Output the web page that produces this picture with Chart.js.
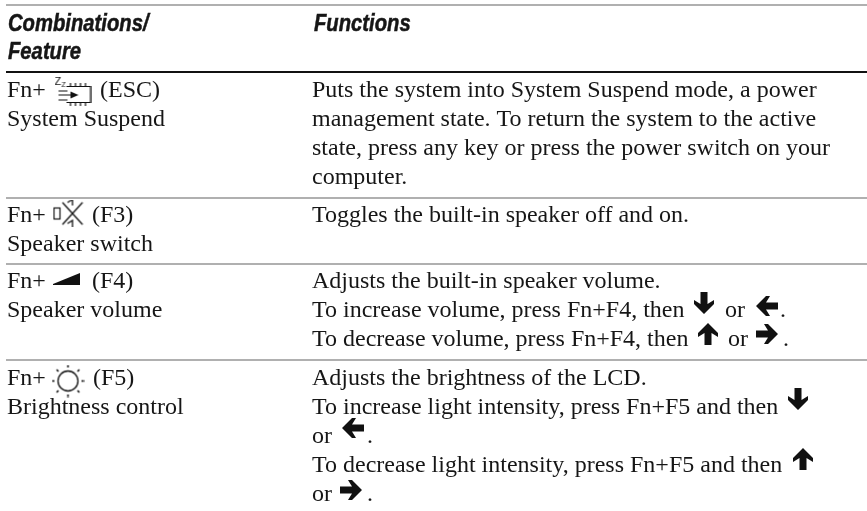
<!DOCTYPE html>
<html><head><meta charset="utf-8">
<style>html,body{margin:0;padding:0;background:#fff}canvas{display:block}</style>
<script src="https://cdn.jsdelivr.net/npm/chart.js@4"></script>
</head><body><canvas id="c" width="867" height="511"></canvas>
<script>
// Table content
const headerTexts=["Combinations/","Feature","Functions"];
const headerX=[8,8,314];
const headerY=[31,59,31];
const bodyTexts=[
"Fn+","(ESC)","System Suspend",
"Puts the system into System Suspend mode, a power",
"management state. To return the system to the active",
"state, press any key or press the power switch on your",
"computer.",
"Fn+","(F3)","Speaker switch",
"Toggles the built-in speaker off and on.",
"Fn+","(F4)","Speaker volume",
"Adjusts the built-in speaker volume.",
"To increase volume, press Fn+F4, then","or",".",
"To decrease volume, press Fn+F4, then","or",".",
"Fn+","(F5)","Brightness control",
"Adjusts the brightness of the LCD.",
"To increase light intensity, press Fn+F5 and then",
"or",".",
"To decrease light intensity, press Fn+F5 and then",
"or","."];
const bodyX=[7,100,7,312,312,312,312,7,92,7,312,7,92,7,312,312,725,780,312,728,783,7,93,7,312,312,312,367,312,312,367];
const bodyY=[97,97,126,97,126,155,184,222,222,251,222,288,288,317,288,317,317,317,346,346,346,385,385,414,385,414,443,443,472,501,501];
const ruleY=[5,72,198,264,360];
const ruleWeight=[2,2,2,2,2];
const ruleColor=["#b0b0b0","#111111","#b0b0b0","#b0b0b0","#b0b0b0"];
const ruleEnds=[6,867];
const iconKind=["esc","mute","vol","sun","down","left","up","right","down","left","up","right"];
const iconX=[73,68,66.5,68,704,767,708,767,798,353,803,351];
const iconY=[92,213,279,381,303,306,334,334,399,428,459,490];

function mk(w,h,f){const c=document.createElement('canvas');c.width=w;c.height=h;const x=c.getContext('2d');x.strokeStyle='#111';x.fillStyle='#111';f(x);return c;}
function arrow(rot){return mk(24,24,x=>{x.translate(12,12);x.rotate(rot);x.beginPath();
  x.moveTo(0,-11);x.lineTo(10,-1);x.lineTo(10,3);x.lineTo(3.5,-1);x.lineTo(3.5,11);x.lineTo(-3.5,11);x.lineTo(-3.5,-1);x.lineTo(-10,3);x.lineTo(-10,-1);x.closePath();x.fill();});}
const glyphs={
 up:arrow(0),right:arrow(Math.PI/2),down:arrow(Math.PI),left:arrow(-Math.PI/2),
 vol:mk(27,12,x=>{x.beginPath();x.moveTo(0,11);x.lineTo(27,0);x.lineTo(27,12);x.lineTo(0,12);x.closePath();x.fill();}),
 sun:mk(33,33,x=>{x.lineWidth=1.3;x.beginPath();x.arc(16.5,16.5,10,0,7);x.stroke();x.lineWidth=1.6;
   for(let i=0;i<8;i++){const a=i*Math.PI/4;x.beginPath();x.moveTo(16.5+13.5*Math.cos(a),16.5+13.5*Math.sin(a));x.lineTo(16.5+16*Math.cos(a),16.5+16*Math.sin(a));x.stroke();}}),
 mute:mk(31,27,x=>{x.lineWidth=1.2;x.strokeRect(1.5,8.5,6,11);x.lineWidth=1.3;x.beginPath();x.moveTo(10,3);x.lineTo(30,25);x.moveTo(30,3);x.lineTo(10,25);x.stroke();
   x.beginPath();x.moveTo(15,3);x.lineTo(20,0);x.lineTo(20,6);x.moveTo(15,24);x.lineTo(20,21);x.lineTo(20,27);x.stroke();}),
 esc:mk(37,30,x=>{x.lineWidth=1.2;x.beginPath();x.moveTo(12,9.5);x.lineTo(36,9.5);x.lineTo(36,25.5);x.lineTo(12,25.5);
   [16,21,26,31].forEach(p=>{x.moveTo(p,6);x.lineTo(p,9.5);x.moveTo(p,25.5);x.lineTo(p,29);});
   x.moveTo(4,18);x.lineTo(20,18);x.moveTo(4,14);x.lineTo(13,14);x.moveTo(4,23);x.lineTo(13,23);x.stroke();
   x.beginPath();x.moveTo(24,18);x.lineTo(16,14.5);x.lineTo(16,21.5);x.closePath();x.fill();
   x.font='11px "Liberation Sans"';x.fillText('Z',0,8);x.font='7px "Liberation Sans"';x.fillText('Z',7,10);})
};
const textPlugin={id:'tableText',afterDatasetsDraw(ch){
  const {ctx,scales:{x,y}}=ch;ctx.save();ctx.fillStyle='#161616';ctx.strokeStyle='#161616';ctx.lineWidth=0.5;ctx.textBaseline='alphabetic';ctx.textAlign='left';
  ctx.font='italic bold 23px "Liberation Sans"';
  headerTexts.forEach((t,i)=>{ctx.save();ctx.translate(x.getPixelForValue(headerX[i]),y.getPixelForValue(headerY[i]));ctx.scale(0.88,1);ctx.fillText(t,0,0);ctx.strokeText(t,0,0);ctx.restore();});
  ctx.font='24px "Liberation Serif"';
  bodyTexts.forEach((t,i)=>ctx.fillText(t,x.getPixelForValue(bodyX[i]),y.getPixelForValue(bodyY[i])));
  ctx.restore();}};
const datasets=ruleY.map((v,i)=>({type:'line',data:ruleEnds.map(e=>({x:e,y:v})),borderColor:ruleColor[i],borderWidth:ruleWeight[i],pointRadius:0,clip:false}));
datasets.push({type:'scatter',data:iconX.map((v,i)=>({x:v,y:iconY[i]})),pointStyle:iconKind.map(k=>glyphs[k]),pointRadius:10,pointHoverRadius:10,showLine:false,clip:false});
new Chart(document.getElementById('c'),{data:{datasets},plugins:[textPlugin],options:{responsive:false,animation:false,layout:{padding:0,autoPadding:false},
 plugins:{legend:{display:false},tooltip:{enabled:false}},
 scales:{x:{type:'linear',min:0,max:867,display:false},y:{type:'linear',min:0,max:511,reverse:true,display:false}}}});
</script></body></html>
